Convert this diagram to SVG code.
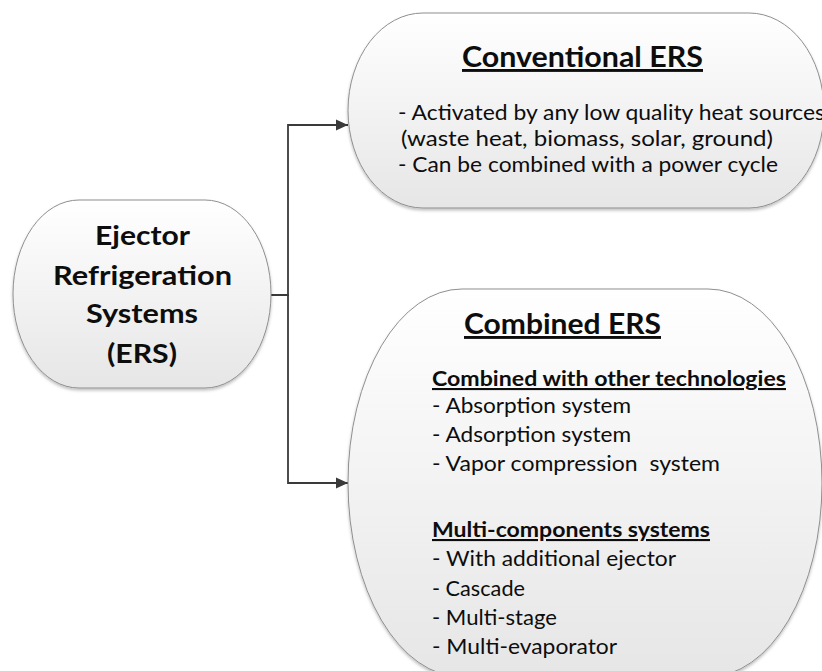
<svg xmlns="http://www.w3.org/2000/svg" width="822" height="671" viewBox="0 0 822 671">
  <defs>
    <linearGradient id="nodeFill" x1="0" y1="0" x2="0" y2="1">
      <stop offset="0" stop-color="#ffffff"/>
      <stop offset="1" stop-color="#e6e6e6"/>
    </linearGradient>
    <filter id="shadow" x="-10%" y="-10%" width="120%" height="125%">
      <feDropShadow dx="0" dy="2" stdDeviation="1.5" flood-color="#000" flood-opacity="0.25"/>
    </filter>
    <marker id="arrow" viewBox="0 0 12 12" refX="12" refY="6" markerWidth="12" markerHeight="12" markerUnits="userSpaceOnUse" orient="auto">
      <path d="M0,0.5 L12,6 L0,11.5 Z" fill="#3a3a3a"/>
    </marker>
    <style>
      .node { fill: url(#nodeFill); stroke: #8f8f8f; stroke-width: 1; filter: url(#shadow); }
      .conn { fill: none; stroke: #3a3a3a; stroke-width: 1.8; }
      text { font-family: Lato, "Open Sans", "Liberation Sans", sans-serif; fill: #0d0d0d; }
      .big { font-size: 26px; font-weight: bold; }
      .title { font-size: 29px; font-weight: bold; text-decoration: underline; }
      .sub { font-size: 21px; font-weight: bold; text-decoration: underline; }
      .body { font-size: 22px; }
    </style>
  </defs>

  <g id="connectors">
    <path class="conn" d="M271,295 H288 V125 H348" marker-end="url(#arrow)"/>
    <path class="conn" d="M271,295 H288 V483 H348" marker-end="url(#arrow)"/>
  </g>

  <g id="ers">
    <rect class="node" x="13" y="200" width="258" height="188" rx="66" ry="94"/>
    <text class="big" x="95" y="245" textLength="95" lengthAdjust="spacingAndGlyphs">Ejector</text>
    <text class="big" x="53" y="285" textLength="179" lengthAdjust="spacingAndGlyphs">Refrigeration</text>
    <text class="big" x="86" y="323" textLength="112" lengthAdjust="spacingAndGlyphs">Systems</text>
    <text class="big" x="107" y="363" textLength="70" lengthAdjust="spacingAndGlyphs">(ERS)</text>
  </g>

  <g id="conventional">
    <rect class="node" x="348" y="13" width="476" height="195" rx="75" ry="97.5"/>
    <text class="title" x="462" y="67" textLength="241" lengthAdjust="spacingAndGlyphs">Conventional ERS</text>
    <text class="body" x="398" y="120" textLength="427" lengthAdjust="spacingAndGlyphs">- Activated by any low quality heat sources</text>
    <text class="body" x="401" y="146" textLength="372" lengthAdjust="spacingAndGlyphs">(waste heat, biomass, solar, ground)</text>
    <text class="body" x="398" y="172" textLength="380" lengthAdjust="spacingAndGlyphs">- Can be combined with a power cycle</text>
  </g>

  <g id="combined">
    <rect class="node" x="348" y="289" width="474" height="388" rx="114" ry="194"/>
    <text class="title" x="464" y="334" textLength="197" lengthAdjust="spacingAndGlyphs">Combined ERS</text>
    <text class="sub" x="432" y="386" textLength="354" lengthAdjust="spacingAndGlyphs">Combined with other technologies</text>
    <text class="body" x="432" y="413" textLength="199" lengthAdjust="spacingAndGlyphs">- Absorption system</text>
    <text class="body" x="432" y="442" textLength="199" lengthAdjust="spacingAndGlyphs">- Adsorption system</text>
    <text class="body" x="432" y="471" textLength="288" lengthAdjust="spacingAndGlyphs" xml:space="preserve">- Vapor compression  system</text>
    <text class="sub" x="432" y="537" textLength="278" lengthAdjust="spacingAndGlyphs">Multi-components systems</text>
    <text class="body" x="432" y="566" textLength="244" lengthAdjust="spacingAndGlyphs">- With additional ejector</text>
    <text class="body" x="432" y="596" textLength="93" lengthAdjust="spacingAndGlyphs">- Cascade</text>
    <text class="body" x="432" y="625" textLength="125" lengthAdjust="spacingAndGlyphs">- Multi-stage</text>
    <text class="body" x="432" y="654" textLength="185" lengthAdjust="spacingAndGlyphs">- Multi-evaporator</text>
  </g>
</svg>
